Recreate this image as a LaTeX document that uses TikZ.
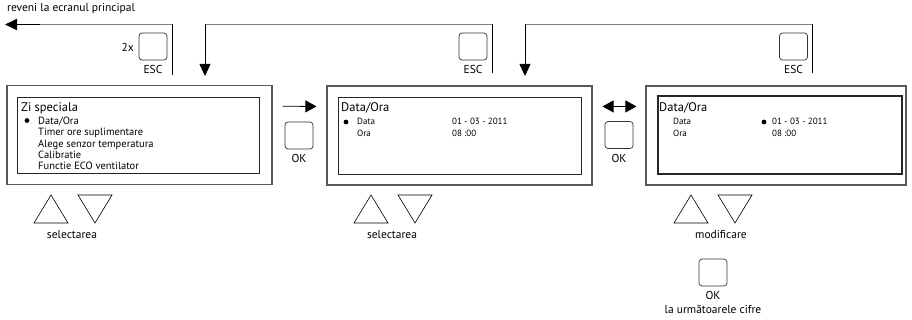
\documentclass[tikz,border=0pt]{standalone}
\usepackage{fontspec}
\setmainfont{PT Sans}
\usetikzlibrary{arrows.meta,positioning,calc}

\tikzset{
  screen/.style={draw=black!65, line width=1.1pt, minimum height=99pt, inner sep=0pt},
  display/.style={draw=black!85, line width=0.7pt, inner sep=0pt},
  key/.style={draw=black!80, line width=0.7pt, rounded corners=3pt, minimum width=28pt, minimum height=27pt, inner sep=0pt},
  keylabel/.style={font=\fontsize{11.5}{13}\selectfont, inner sep=0pt},
  title/.style={font=\fontsize{12.5}{14}\selectfont, anchor=base west, inner sep=0pt},
  item/.style={font=\fontsize{10.5}{12}\selectfont, anchor=base west, inner sep=0pt},
  small/.style={font=\fontsize{9}{10}\selectfont, anchor=base west, inner sep=0pt},
  post/.style={line width=0.8pt, line cap=rect},
  rail/.style={draw=black!50, line width=1pt},
  link/.style={line width=0.8pt, -{Triangle[length=12pt,width=11pt]}},
  steplink/.style={line width=0.8pt, -{Triangle[length=11pt,width=12pt]}},
  arrowkey/.style={line width=0.6pt, line join=miter},
}

\begin{document}
\begin{tikzpicture}[x=1pt,y=-1pt]
  \useasboundingbox (0,0) rectangle (912,320);

  % the three screens
  \node[screen, minimum width=265pt] (s1) at (139.5,135.3) {};
  \node[screen, minimum width=265pt] (s2) at (459.5,135.5) {};
  \node[screen, minimum width=260pt] (s3) at (776,135.5) {};
  \node[display, minimum width=242pt, minimum height=76pt] (d1) at (138,135) {};
  \node[display, minimum width=243pt, minimum height=77pt] (d2) at (459.5,135.5) {};
  \node[display, line width=1.4pt, minimum width=244pt, minimum height=78pt] (d3) at (780,135) {};

  % screen 1: menu
  \node[title] (t1) at (21,112) {Zi speciala};
  \foreach \y/\txt in {124.5/{Data/Ora},136/Timer ore suplimentare,147.5/Alege senzor temperatura,158.5/Calibratie,169.5/Functie ECO ventilator}
    \node[item] at (38,\y) {\txt};
  \fill (27,120.5) circle (2.4pt);

  % screen 2 and 3: date and time
  \foreach \s/\tx/\lx/\vx in {2/341/357/452,3/659/673/772}
    {
      \node[title] (t\s) at (\tx,112) {Data/Ora};
      \node[small] (date\s) at (\lx,125) {Data};
      \node[small] (hour\s) at (\lx,136.5) {Ora};
      \node[small] (dval\s) at (\vx,125) {01 - 03 - 2011};
      \node[small] (hval\s) at (\vx,136.5) {08 :00};
    }
  \fill (346,122) circle (2.4pt);
  \fill (764,122) circle (2.4pt);

  % ESC keys and the way back
  \node[key] (esc1) at (153,46.5) {};
  \node[key] (esc2) at (473,46.5) {};
  \node[key] (esc3) at (793.5,46.5) {};
  \foreach \k in {1,2,3}
    \node[keylabel, below=5pt of esc\k] {ESC};
  \node[keylabel, anchor=base east] (twice) at (134,51.5) {2x};
  \node[keylabel, anchor=base west] (back) at (7,12) {reveni la ecranul principal};

  \coordinate (top) at (0,24.5);
  \coordinate (e1) at (172,75);
  \coordinate (e2) at (492,73);
  \coordinate (e3) at (812,73);
  \coordinate (in1) at (205,76);
  \coordinate (in2) at (525,76);
  \coordinate (home) at (5,24.5);
  \coordinate (bend) at (40,24.5);

  \foreach \src/\dst in {e2/in1,e3/in2}
    {
      \draw[post] (\src) -- (\src |- top);
      \draw[rail] (\src |- top) -- (\dst |- top);
      \draw[link] (\dst |- top) -- (\dst);
    }
  \draw[post] (e1) -- (e1 |- top);
  \draw[rail] (e1 |- top) -- (bend);
  \draw[line width=1.8pt, -{Triangle[length=12pt,width=11pt]}] (bend) -- (home);

  % OK keys and the steps between screens
  \node[key] (ok1) at (299,135.5) {};
  \node[key] (ok2) at (619,135) {};
  \node[key] (ok3) at (713,272.5) {};
  \foreach \k in {1,2,3}
    \node[keylabel, below=5pt of ok\k] (okl\k) {OK};
  \node[keylabel, below=5pt of okl3] (next) {la următoarele cifre};

  \draw[steplink] ($(s1.north east)+(10,21)$) -- ($(s2.north west)+(-10,21)$);
  \draw[steplink, {Triangle[length=11pt,width=12pt]}-{Triangle[length=11pt,width=12pt]}] ($(s2.north east)+(10,21)$) -- ($(s3.north west)+(-9,21)$);

  % up and down keys
  \foreach \l in {34,354,674}
    {
      \draw[arrowkey] (\l,223) -- ++(17,-28) -- ++(17,28) -- cycle;
      \draw[arrowkey] (\l+44,195) -- ++(17,28) -- ++(17,-28) -- cycle;
    }
  \node[keylabel, anchor=base] (sel1) at (72,239) {selectarea};
  \node[keylabel, anchor=base] (sel2) at (392,239) {selectarea};
  \node[keylabel, anchor=base] (mod3) at (721,239) {modificare};
\end{tikzpicture}
\end{document}
